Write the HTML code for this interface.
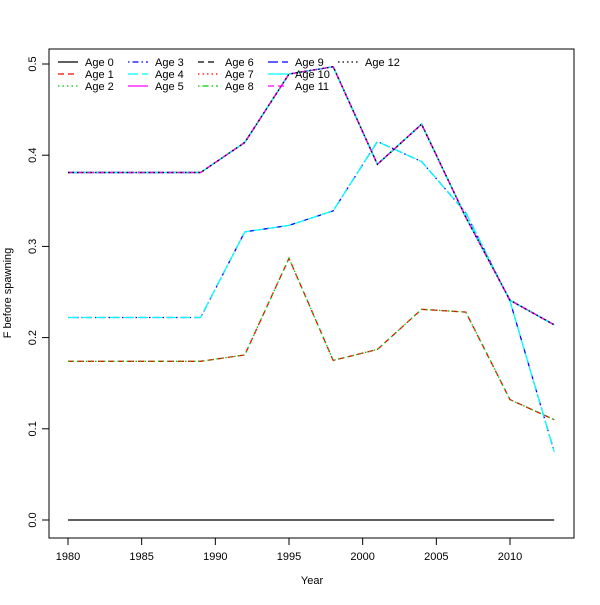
<!DOCTYPE html>
<html><head><meta charset="utf-8"><style>
body{margin:0;background:#fff}
text{font-family:"Liberation Sans",sans-serif;font-size:11px;fill:#000}
</style></head><body>
<svg id="chart" width="600" height="600" xmlns="http://www.w3.org/2000/svg">
<rect x="0" y="0" width="600" height="600" fill="#fff"/>
<g id="plot"></g>
<g id="axes"></g>
<g id="legend"></g>
</svg>
<script>
const years=[1980,1989,1992,1995,1998,2001,2004,2007,2010,2013];
const ageGroups=[[0],[1,2],[3,4],[5,6,7,8,9,10,11,12]];
const series0=[0,0,0,0,0,0,0,0,0,0];
const series12=[0.174,0.174,0.181,0.287,0.175,0.187,0.231,0.228,0.132,0.110];
const series34=[0.222,0.222,0.316,0.323,0.339,0.415,0.393,0.337,0.240,0.075];
const series5plus=[0.381,0.381,0.414,0.489,0.497,0.390,0.434,0.332,0.241,0.214];
const xTicks=[1980,1985,1990,1995,2000,2005,2010];
const yTicks=[0,0.1,0.2,0.3,0.4,0.5];
const yTickLabels=["0.0","0.1","0.2","0.3","0.4","0.5"];
const ages=[0,1,2,3,4,5,6,7,8,9,10,11,12];

const NS="http://www.w3.org/2000/svg";
const X=v=>68+(v-1980)*(442/30);
const Y=v=>520-v*912;
const cols=["#000","#DF536B".replace("#DF536B","#ff0000"),"#00cd00","#0000ff","#00ffff","#ff00ff"];
const ltys=["","6,4","1.5,3","1.5,3,6,3","10,4"];
function mk(tag,attrs,parent){const e=document.createElementNS(NS,tag);for(const k in attrs)e.setAttribute(k,attrs[k]);parent.appendChild(e);return e;}
function seriesFor(a){if(a===0)return series0;if(a<=2)return series12;if(a<=4)return series34;return series5plus;}
const plot=document.getElementById('plot'),axes=document.getElementById('axes'),leg=document.getElementById('legend');
ages.forEach(a=>{
  const s=seriesFor(a);
  const p=mk('polyline',{points:s.map((v,i)=>X(years[i])+','+Y(v)).join(' '),fill:'none',stroke:cols[a%6],'stroke-width':1.3,'stroke-dasharray':ltys[a%5]},plot);
  
  
});
const box=mk('rect',{x:49,y:49,width:525,height:489,fill:'none',stroke:'#000'},axes);


xTicks.forEach(t=>{
  mk('line',{x1:X(t),x2:X(t),y1:538,y2:545,stroke:'#000'},axes);
  const tx=mk('text',{x:X(t),y:560,'text-anchor':'middle'},axes);tx.textContent=t;
  
  
});
mk('line',{x1:X(1980),x2:X(2010),y1:538,y2:538,stroke:'#000'},axes);
yTicks.forEach((t,i)=>{
  mk('line',{x1:42,x2:49,y1:Y(t),y2:Y(t),stroke:'#000'},axes);
  const tx=mk('text',{x:0,y:0,'text-anchor':'middle',transform:`translate(36,${Y(t)}) rotate(-90)`},axes);tx.textContent=yTickLabels[i];
  
  
});
mk('line',{x1:49,x2:49,y1:Y(0),y2:Y(0.5),stroke:'#000'},axes);
const xt=mk('text',{x:312,y:584,'text-anchor':'middle'},axes);xt.textContent='Year';


const yt=mk('text',{x:0,y:0,'text-anchor':'middle',transform:'translate(11,293) rotate(-90)'},axes);yt.textContent='F before spawning';


ages.forEach(a=>{
  const c=Math.floor(a/3),r=a%3;
  const x0=58+c*70,y0=62+r*12;
  const g=mk('g',{},leg);
  
  
  mk('line',{x1:x0,x2:x0+20,y1:y0,y2:y0,stroke:cols[a%6],'stroke-width':1.3,'stroke-dasharray':ltys[a%5]},g);
  const t=mk('text',{x:x0+27,y:y0+4},g);t.textContent='Age '+a;
});
</script>
</body></html>
